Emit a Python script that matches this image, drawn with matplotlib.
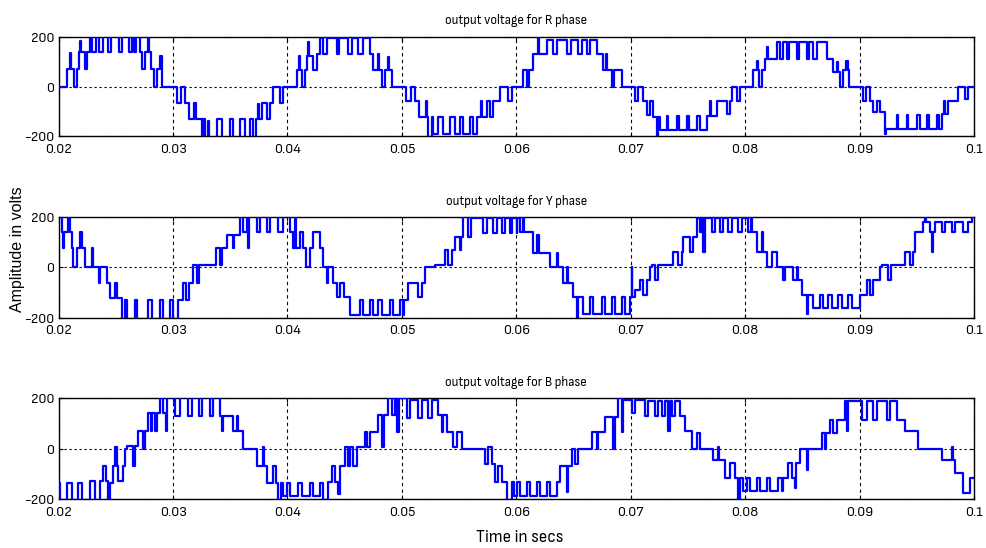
import numpy as np
import matplotlib
matplotlib.use('Agg')
import matplotlib.pyplot as plt
from matplotlib import font_manager

# step waveforms: (time in ms, level in volts)
r_steps = [
    (20.0, 0), (20.75, 70), (20.95, 135), (21.05, 70), (21.34, 0), (21.57, 70), (21.77, 140), (21.9, 185),
    (21.97, 140), (22.3, 70), (22.5, 140), (22.75, 210), (22.95, 140), (23.3, 210), (23.55, 140), (23.85, 210),
    (24.28, 140), (24.6, 210), (25.27, 140), (25.55, 210), (26.15, 140), (26.45, 210), (26.6, 140), (26.8, 210),
    (27.1, 140), (27.3, 70), (27.55, 140), (27.8, 210), (27.9, 140), (28.05, 70), (28.33, 0), (28.56, 70),
    (28.9, 125), (29.0, 70), (29.05, 0),
    (30.31, -65), (30.69, 0), (31.0, -65), (31.35, -130), (31.8, -65), (32.0, -130), (32.5, -210), (32.65, -130),
    (32.75, -210), (33.05, -140), (33.15, -210), (33.81, -130), (34.24, -210), (34.97, -130), (35.27, -210),
    (35.85, -130), (36.28, -210), (36.72, -130), (37.01, -210), (37.25, -130), (37.45, -70), (37.55, -130),
    (37.74, -65), (38.18, -130), (38.47, -65), (38.76, 0), (39.35, -65), (39.64, 0),
    (40.8, 65), (41.0, 125), (41.08, 65), (41.24, 0), (41.53, 65), (41.68, 125), (41.8, 180), (41.88, 125),
    (42.26, 65), (42.55, 130), (42.84, 195), (43.13, 132), (43.42, 195), (44.3, 132), (44.53, 195), (45.32, 132),
    (45.61, 195), (46.19, 132), (46.63, 195), (47.21, 132), (47.5, 65), (47.94, 130), (48.0, 65), (48.23, 0),
    (48.52, 65), (48.8, 120), (48.9, 65), (49.1, 0),
    (50.36, -57), (50.77, 0), (51.14, -57), (51.52, -125), (52.1, -57), (52.22, -125), (52.31, -205), (52.6, -125),
    (52.75, -190), (53.18, -125), (53.62, -190), (54.2, -125), (54.64, -190), (55.08, -125), (55.37, -190),
    (55.95, -125), (56.19, -190), (56.54, -125), (56.9, -57), (57.0, -125), (57.41, -57), (57.7, -125),
    (57.99, -57), (58.57, 0), (59.3, -57), (59.6, 0),
    (60.6, 65), (60.95, 0), (61.1, 65), (61.49, 132), (61.93, 205), (62.0, 132), (62.65, 189), (63.24, 132),
    (63.59, 189), (64.4, 132), (64.75, 189), (65.42, 132), (65.71, 189), (66.15, 132), (66.44, 189), (67.02, 132),
    (67.61, 65), (67.85, 130), (67.95, 65), (68.34, 0), (68.54, 65), (69.21, 0),
    (70.37, -57), (70.65, 0), (71.1, -57), (71.39, -115), (71.68, -57), (71.98, -125), (72.27, -205), (72.41, -125),
    (72.56, -175), (73.14, -118), (73.29, -175), (74.01, -118), (74.25, -175), (74.89, -118), (75.12, -175),
    (75.76, -118), (76.05, -175), (76.64, -118), (76.95, -57), (77.02, -118), (77.51, -57), (78.39, -110),
    (78.68, -57), (78.82, 0), (79.26, -57), (79.55, 0),
    (80.72, 65), (81.0, 105), (81.08, 65), (81.24, 0), (81.45, 65), (81.74, 112), (81.95, 160), (82.02, 112),
    (82.76, 180), (83.05, 112), (83.28, 180), (83.63, 112), (83.86, 180), (84.5, 112), (84.74, 180), (85.38, 112),
    (85.61, 180), (85.96, 112), (86.25, 180), (87.13, 112), (87.71, 60), (88.0, 100), (88.1, 60), (88.29, 0),
    (88.58, 65), (88.85, 105), (88.95, 65), (89.11, 0),
    (90.33, -57), (90.6, 0), (90.91, -57), (91.2, -105), (91.5, -57), (91.79, -105), (92.2, -190), (92.3, -172),
    (93.25, -115), (93.4, -172), (94.12, -115), (94.27, -172), (95.0, -115), (95.29, -172), (95.87, -115),
    (96.1, -172), (96.74, -115), (96.97, -172), (97.18, -110), (97.4, -57), (97.45, -110), (97.76, -57),
    (98.64, 0), (99.22, -50), (99.51, 0),
]

y_steps = [
    (20.0, 205), (20.26, 143), (20.4, 76), (20.45, 143), (20.84, 205), (20.99, 143), (21.2, 76), (21.28, 0),
    (21.63, 76), (21.86, 140), (22.0, 76), (22.3, 0), (22.88, 76), (23.03, 0), (23.52, -64), (23.65, 0),
    (24.19, -64), (24.48, -124), (24.92, -64), (25.07, -124), (25.51, -205), (25.8, -130), (26.0, -205),
    (26.67, -130), (26.82, -205), (27.84, -130), (28.13, -205), (28.86, -130), (29.15, -205), (29.73, -130),
    (30.02, -205), (30.45, -130), (30.9, -64), (31.1, -130), (31.35, -64), (31.77, 10), (32.1, -64), (32.3, 10),
    (33.75, 76), (34.1, 10), (34.25, 76), (34.68, 130), (35.27, 76), (35.35, 130), (35.85, 205), (36.14, 140),
    (36.45, 205), (36.57, 76), (36.65, 205), (37.3, 140), (37.59, 205), (38.18, 140), (38.47, 205), (39.2, 140),
    (39.63, 205), (40.22, 140), (40.51, 76), (40.65, 205), (40.72, 76), (41.09, 140), (41.39, 76), (41.62, 0),
    (41.97, 76), (42.26, 140), (42.84, 76), (43.13, 0), (43.42, -64), (43.55, 0), (44.0, -64), (44.3, -117),
    (44.6, -64), (44.9, -117), (45.46, -190), (46.34, -130), (46.63, -190), (47.21, -130), (47.5, -190),
    (47.94, -130), (48.23, -190), (48.96, -130), (49.25, -190), (49.83, -130), (50.12, -190), (50.2, -130),
    (50.56, -64), (51.44, -117), (51.73, -64), (52.02, 0), (52.89, 10), (53.77, 70), (54.05, 10), (54.35, 70),
    (54.64, 123), (55.08, 70), (55.15, 123), (55.37, 205), (55.8, 123), (56.0, 196), (57.12, 136), (57.41, 196),
    (57.99, 136), (58.28, 196), (58.72, 136), (59.01, 196), (59.45, 136), (59.6, 196), (60.03, 136), (60.1, 196),
    (60.32, 140), (60.55, 205), (60.7, 140), (61.49, 56), (61.8, 130), (61.95, 56), (62.95, 0), (63.53, 56),
    (63.65, 0), (64.11, -64), (64.4, 0), (64.5, -64), (64.98, -117), (65.27, -205), (65.4, -117), (65.86, -184),
    (66.44, -117), (66.73, -184), (67.46, -117), (67.75, -184), (68.34, -117), (68.63, -184), (69.21, -117),
    (69.5, -184), (69.94, -117), (70.08, 0), (70.15, -117), (70.37, -90), (70.81, -50), (71.1, -110), (71.39, -50),
    (71.68, 0), (71.85, 10), (72.12, -50), (72.41, 10), (73.72, 63), (74.16, 10), (74.45, 63), (74.6, 123),
    (75.18, 63), (75.47, 123), (75.76, 196), (76.05, 140), (76.2, 196), (76.35, 63), (76.45, 196), (77.07, 140),
    (77.37, 196), (77.8, 140), (78.1, 196), (78.53, 140), (78.82, 196), (79.4, 140), (79.7, 196), (80.28, 140),
    (80.5, 205), (80.6, 140), (81.01, 63), (81.44, 140), (81.6, 63), (81.88, 0), (82.32, 63), (82.76, 0),
    (83.34, -50), (83.45, 0), (84.21, -50), (84.5, 0), (84.6, -50), (84.94, -110), (85.38, -184), (85.5, -110),
    (85.96, -164), (86.54, -110), (86.84, -164), (87.27, -110), (87.56, -164), (88.15, -110), (88.44, -164),
    (89.02, -110), (89.31, -164), (90.04, -110), (90.62, -50), (90.91, -110), (91.2, -50), (91.79, 0), (91.95, 10),
    (92.52, -50), (92.75, 10), (93.97, 63), (94.41, 10), (94.7, 63), (94.85, 140), (95.58, 183), (95.75, 205),
    (95.85, 183), (96.16, 140), (96.3, 63), (96.4, 140), (96.6, 183), (97.18, 140), (97.47, 183), (98.05, 140),
    (98.35, 183), (99.07, 140), (99.51, 183), (99.8, 200),
]

b_steps = [
    (20.0, -136), (20.11, -205), (20.7, -136), (21.14, -205), (21.72, -136), (22.01, -205), (22.74, -130),
    (23.18, -205), (23.62, -130), (23.89, -70), (24.13, -130), (24.33, -205), (24.48, -135), (24.77, -70),
    (24.92, 7), (25.07, -70), (25.22, -130), (25.65, -70), (25.8, 0), (26.0, 10), (26.47, -70), (26.67, 10),
    (26.97, 69), (27.4, 0), (27.55, 69), (27.84, 142), (28.05, 69), (28.13, 142), (28.42, 69), (28.57, 142),
    (28.86, 205), (29.09, 142), (29.4, 69), (29.5, 205), (30.17, 130), (30.61, 205), (31.33, 130), (31.63, 205),
    (32.26, 130), (32.55, 205), (33.23, 130), (33.52, 205), (34.1, 130), (34.25, 69), (34.35, 130), (35.27, 69),
    (35.56, 130), (35.7, 69), (36.14, 0), (37.3, -70), (37.85, 7), (37.95, -70), (38.18, -135), (38.76, -70),
    (39.0, -135), (39.2, -205), (39.45, -135), (39.6, -190), (39.93, -135), (40.22, -190), (40.95, -135),
    (41.24, -190), (41.97, -135), (42.26, -190), (42.84, -135), (43.13, -205), (43.57, -133), (43.86, -67),
    (44.15, -133), (44.44, -180), (44.6, -67), (45.03, 7), (45.32, -67), (45.46, 7), (45.75, -67), (46.05, 7),
    (46.77, 67), (46.92, 7), (47.21, 67), (47.94, 133), (48.3, 7), (48.4, 133), (48.81, 205), (49.1, 133),
    (49.4, 205), (49.55, 67), (49.78, 200), (50.42, 120), (50.71, 193), (51.44, 120), (51.73, 193), (52.31, 120),
    (52.6, 193), (53.18, 133), (53.5, 67), (53.6, 133), (53.91, 67), (54.49, 7), (54.79, 67), (55.22, 0),
    (57.26, -60), (57.56, 7), (57.85, -60), (58.14, -133), (58.43, -67), (58.72, -133), (59.16, -205),
    (59.6, -133), (59.8, -187), (60.03, -133), (60.32, -187), (60.9, -133), (61.2, -187), (61.78, -133),
    (62.07, -187), (62.65, -133), (62.95, -187), (63.53, -133), (63.82, -67), (64.4, -173), (64.5, -67),
    (64.84, 0), (65.13, -60), (65.42, 0), (66.59, 67), (67.03, 0), (67.17, 67), (67.75, 127), (68.48, 0),
    (68.6, 127), (68.92, 205), (69.21, 67), (69.3, 195), (70.08, 140), (70.37, 195), (71.25, 128), (71.54, 188),
    (72.12, 128), (72.41, 188), (72.7, 128), (73.0, 188), (73.3, 69), (73.4, 188), (73.58, 128), (73.87, 188),
    (74.3, 128), (74.74, 69), (75.33, 0), (75.76, 62), (76.05, 0), (77.22, -44), (77.66, 7), (77.75, -44),
    (78.24, -117), (78.68, -57), (79.1, -117), (79.41, -205), (79.55, -117), (79.84, -170), (80.13, -117),
    (80.43, -170), (81.01, -117), (81.3, -170), (81.88, -117), (82.18, -170), (82.9, -117), (83.19, -170),
    (83.34, -117), (83.78, -57), (84.07, -117), (84.36, -156), (84.45, -57), (84.8, 0), (85.38, -83), (85.53, 0),
    (86.69, 62), (86.98, 0), (87.1, 62), (87.42, 115), (87.71, 62), (88.0, 115), (88.73, 188), (88.9, 69),
    (89.0, 188), (90.19, 115), (90.62, 188), (91.2, 115), (91.5, 188), (92.37, 115), (92.66, 188), (93.25, 115),
    (93.97, 69), (95.14, 0), (97.18, -44), (98.05, 7), (98.15, -44), (98.35, -97), (99.07, -176), (99.66, -117),
]

titles = ['output voltage for R phase', 'output voltage for Y phase', 'output voltage for B phase']
x_ticks = [0.02, 0.03, 0.04, 0.05, 0.06, 0.07, 0.08, 0.09, 0.1]
x_labels = ['0.02', '0.03', '0.04', '0.05', '0.06', '0.07', '0.08', '0.09', '0.1']
y_ticks = [-200, 0, 200]

# the reference text is squeezed sideways: use a narrow face if one is installed
narrow_fp = None
for f in font_manager.fontManager.ttflist:
    if f.style != 'normal' or f.weight not in (400, 'normal', 'regular'):
        continue
    if 'Narrow' in f.name or 'Condensed' in f.name or f.stretch in ('condensed', 'semi-condensed'):
        if narrow_fp is None or 'Sans' in f.name:
            narrow_fp = font_manager.FontProperties(fname=f.fname)
if narrow_fp is None:
    narrow_fp = font_manager.FontProperties(family='Liberation Sans')
    tick_size, title_size, xl_size = 9.5, 8.5, 11.5
else:
    tick_size, title_size, xl_size = 10.5, 9.5, 12.5


def draw_phase(ax, steps, title):
    t = np.array([s[0] for s in steps] + [100.0]) / 1000.0
    v = np.array([s[1] for s in steps] + [steps[-1][1]])
    ax.step(t, v, where='post', color='#0000ff', lw=1.6, zorder=3)

    ax.set_xlim(0.02, 0.1)
    ax.set_ylim(-200, 200)
    ax.set_xticks(x_ticks)
    ax.set_xticklabels(x_labels)
    ax.set_yticks(y_ticks)
    ax.set_yticklabels([str(y) for y in y_ticks])
    ax.tick_params(direction='in', length=3, top=True, right=True, colors='black')
    ax.tick_params(axis='x', pad=5)
    ax.tick_params(axis='y', pad=3)
    for lab in ax.get_xticklabels() + ax.get_yticklabels():
        lab.set_fontproperties(narrow_fp)
        lab.set_fontsize(tick_size)
    ax.xaxis.grid(True, color='black', linestyle=(0, (3, 3)), lw=0.8)
    ax.yaxis.grid(True, color='black', linestyle=(0, (2, 2.5)), lw=0.8)
    ax.set_axisbelow(True)
    for sp in ax.spines.values():
        sp.set_linewidth(1.0)
        sp.set_color('black')
    ax.set_title(title, fontproperties=narrow_fp, fontsize=title_size, pad=9)


fig = plt.figure(figsize=(9.86, 5.48), dpi=100)

ax_r = fig.add_axes([0.0595, 0.7518, 0.9283, 0.1807])
draw_phase(ax_r, r_steps, titles[0])

ax_y = fig.add_axes([0.0595, 0.4206, 0.9283, 0.1829])
draw_phase(ax_y, y_steps, titles[1])

ax_b = fig.add_axes([0.0595, 0.0894, 0.9283, 0.1838])
draw_phase(ax_b, b_steps, titles[2])

fig.text(0.527, 0.02, 'Time in secs', ha='center', va='center',
         fontproperties=narrow_fp, fontsize=xl_size)
fig.text(0.018, 0.545, 'Amplitude in volts', rotation=90, ha='center', va='center',
         fontsize=11.5, family=['Liberation Sans', 'DejaVu Sans'])

fig.savefig('out.png', dpi=100)
